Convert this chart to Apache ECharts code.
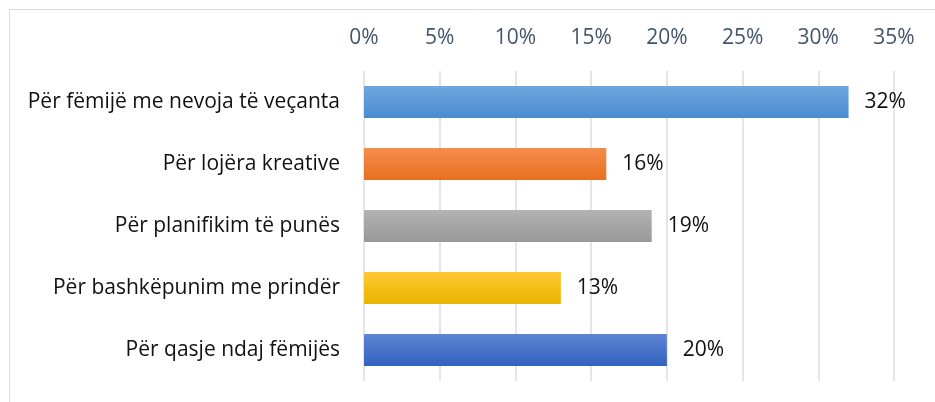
<!DOCTYPE html>
<html><head><meta charset="utf-8">
<script src="https://cdn.jsdelivr.net/npm/echarts@6/dist/echarts.min.js"></script>
<style>html,body{margin:0;padding:0;background:#fff}#c{width:935px;height:402px}</style>
</head><body><div id="c"></div>
<script>
const categories = ["Për fëmijë me nevoja të veçanta","Për lojëra kreative","Për planifikim të punës","Për bashkëpunim me prindër","Për qasje ndaj fëmijës"];
const values = [32, 16, 19, 13, 20];
const tickLabels = ["0%","5%","10%","15%","20%","25%","30%","35%"];
const colors = [["#6fa8de","#4a8ad0"],["#f58d4c","#e8701f"],["#b3b3b3","#989898"],["#ffc832","#e9b400"],["#5e84d3","#3062bd"]];
const chart = echarts.init(document.getElementById('c'));
const font = "Open Sans";
chart.setOption({
  animation:false,
  graphic:[{type:'rect',shape:{x:9.5,y:9.5,width:1000,height:1000},style:{fill:'none',stroke:'#d9d9d9',lineWidth:1}}],
  grid:{left:364,right:41,top:71,bottom:21},
  xAxis:{type:'value',position:'top',min:0,max:35,interval:5,
    axisLine:{show:false},axisTick:{show:false},
    axisLabel:{margin:22,color:'#44546a',fontFamily:font,fontSize:21,formatter:v=>tickLabels[v/5]},
    splitLine:{lineStyle:{color:'#d9dce3',width:1.5}}},
  yAxis:{type:'category',inverse:true,data:categories,
    axisLine:{show:false},axisTick:{show:false},
    axisLabel:{margin:24,color:'#111',fontFamily:font,fontSize:21}},
  series:[{type:'bar',barWidth:'52%',
    data:values.map((v,i)=>({value:v,itemStyle:{color:new echarts.graphic.LinearGradient(0,0,0,1,[{offset:0,color:colors[i][0]},{offset:1,color:colors[i][1]}])}})),
    label:{show:true,position:'right',distance:16,color:'#111',fontFamily:font,fontSize:21,formatter:p=>p.value+'%'}}]
});
</script></body></html>
